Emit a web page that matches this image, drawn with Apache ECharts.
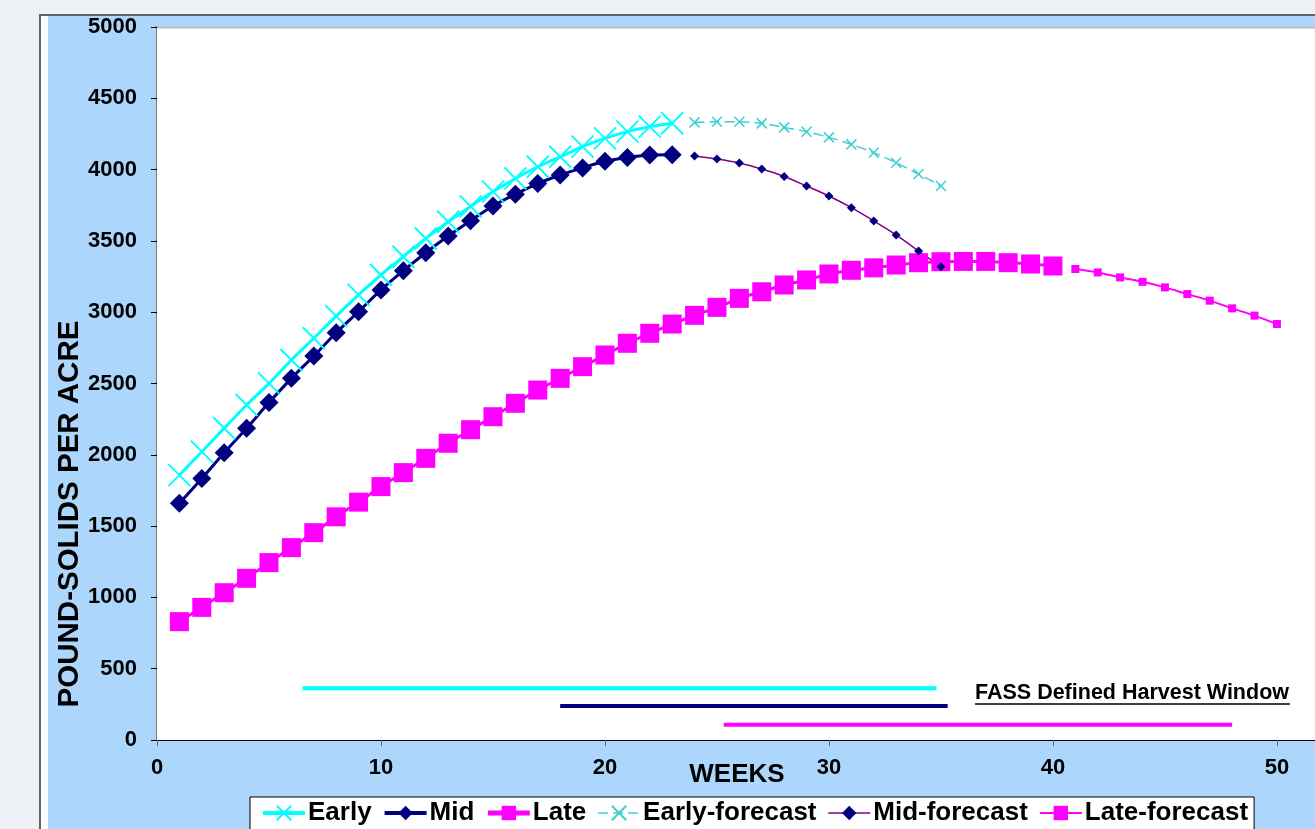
<!DOCTYPE html>
<html>
<head>
<meta charset="utf-8">
<script src="https://cdn.jsdelivr.net/npm/echarts@6/dist/echarts.min.js"></script>
<style>
  html, body { margin: 0; padding: 0; background: #eef1f6; }
  #chart { width: 1315px; height: 829px; }
</style>
</head>
<body>
<div id="chart"></div>
<script>
// ---- data ----
const earlyStart = 1;
const earlyValues = [1858, 2022, 2186, 2349, 2501, 2665, 2817, 2973, 3121, 3261, 3389, 3517, 3634, 3742, 3845, 3938, 4020, 4090, 4161, 4219, 4266, 4301, 4325];
const midStart = 1;
const midValues = [1660, 1834, 2015, 2186, 2366, 2536, 2693, 2856, 3004, 3156, 3291, 3417, 3534, 3642, 3745, 3828, 3902, 3962, 4012, 4058, 4085, 4102, 4105];
const lateStart = 1;
const lateValues = [830, 930, 1033, 1134, 1244, 1349, 1454, 1565, 1668, 1777, 1875, 1975, 2081, 2176, 2267, 2361, 2454, 2536, 2618, 2700, 2782, 2852, 2917, 2978, 3034, 3097, 3143, 3191, 3226, 3268, 3294, 3311, 3331, 3347, 3354, 3356, 3356, 3347, 3338, 3324];
const earlyFcStart = 24;
const earlyFcValues = [4331, 4336, 4336, 4324, 4296, 4266, 4226, 4177, 4118, 4048, 3969, 3885];
const midFcStart = 24;
const midFcValues = [4095, 4074, 4046, 4004, 3952, 3885, 3815, 3733, 3640, 3542, 3429, 3319];
const lateFcStart = 41;
const lateFcValues = [3303, 3279, 3244, 3213, 3174, 3127, 3081, 3027, 2976, 2917];

// FASS harvest windows: [startWeek, endWeek], level
const earlyWindow = [6.5, 34.8]; const earlyWindowLevel = 363;
const midWindow = [18.0, 35.3];  const midWindowLevel = 238;
const lateWindow = [25.3, 48.0]; const lateWindowLevel = 107;

const seriesNames = ['Early', 'Mid', 'Late', 'Early-forecast', 'Mid-forecast', 'Late-forecast'];
const xTitle = 'WEEKS';
const yTitle = 'POUND-SOLIDS PER ACRE';
const windowLabel = 'FASS Defined Harvest Window';

function pairs(start, vals) { return vals.map((v, i) => [start + i, v]); }
function windowPairs(w, level) { return [[w[0], level], [w[1], level]]; }

const FONT = '"Liberation Sans", Arial, sans-serif';
const xPath = 'path://M0,0L22,22M22,0L0,22';
const xPathSmall = 'path://M0,0L10,10M10,0L0,10';
const legendLineWidths = [4, 4, 5, 1.5, 1.5, 2];

const chart = echarts.init(document.getElementById('chart'), null, { renderer: 'canvas' });

const option = {
  backgroundColor: '#eef1f6',
  animation: false,
  grid: { left: 157, top: 27, right: 0, bottom: 89, show: true, backgroundColor: '#ffffff', borderWidth: 0, z: 1 },
  xAxis: {
    type: 'value', min: 0, max: 51.7, interval: 10,
    axisLine: { show: true, onZero: false, lineStyle: { color: '#000', width: 1 } },
    axisTick: { show: true, length: 6, lineStyle: { color: '#666' } },
    axisLabel: { fontSize: 22, fontWeight: 'bold', color: '#000', fontFamily: FONT, margin: 17, showMaxLabel: false,
      formatter: v => (v % 10 === 0 ? String(v) : '') },
    splitLine: { show: false }
  },
  yAxis: {
    type: 'value', min: 0, max: 5000, interval: 500,
    axisLine: { show: true, lineStyle: { color: '#7a7a7a', width: 2 } },
    axisTick: { show: true, length: 6, lineStyle: { color: '#000' } },
    axisLabel: { fontSize: 22, fontWeight: 'bold', color: '#000', fontFamily: FONT, margin: 20, formatter: v => String(v) },
    splitLine: { show: true, lineStyle: { color: '#3a3a3a', width: 1 } }
  },
  legend: {
    data: seriesNames.map((n, i) => ({ name: n, lineStyle: { width: legendLineWidths[i] } })),
    left: 250, top: 797,
    orient: 'horizontal',
    itemWidth: 42, itemHeight: 18, itemGap: 11,
    padding: [3, 6, 6, 11],
    backgroundColor: '#ffffff', borderColor: '#000', borderWidth: 1,
    textStyle: { fontSize: 26, fontWeight: 'bold', color: '#000', fontFamily: FONT, padding: [0, 0, 0, -2] }
  },
  graphic: [
    { type: 'rect', z: -20, silent: true, shape: { x: 40, y: 15, width: 1300, height: 830 }, style: { fill: '#ffffff', stroke: '#5c6470', lineWidth: 2 } },
    { type: 'rect', z: -19, silent: true, shape: { x: 48, y: 16, width: 1300, height: 830 }, style: { fill: '#add6fc' } },
    { type: 'line', z: 5, silent: true, shape: { x1: 157, y1: 27.5, x2: 1315, y2: 27.5 }, style: { stroke: '#bdbdbd', lineWidth: 2 } },
    { type: 'text', z: 5, silent: true, x: 737, y: 775, style: { text: xTitle, fill: '#000', font: 'bold 26px ' + FONT, align: 'center', verticalAlign: 'middle' } },
    { type: 'text', z: 5, silent: true, x: 70, y: 514, rotation: Math.PI / 2, style: { text: yTitle, fill: '#000', font: 'bold 29.5px ' + FONT, align: 'center', verticalAlign: 'middle' } },
    { type: 'text', z: 5, silent: true, x: 975, y: 693, style: { text: windowLabel, fill: '#000', font: 'bold 21.5px ' + FONT, align: 'left', verticalAlign: 'middle' } },
    { type: 'line', z: 5, silent: true, shape: { x1: 975, y1: 704, x2: 1290, y2: 704 }, style: { stroke: '#000', lineWidth: 1.5 } }
  ],
  series: [
    {
      name: 'Early', type: 'line', z: 4, data: pairs(earlyStart, earlyValues), smooth: 0.3,
      symbol: xPath, symbolSize: 22,
      lineStyle: { color: '#00ffff', width: 3 },
      itemStyle: { color: '#00ffff', borderColor: '#00ffff', borderWidth: 1.9 }
    },
    {
      name: 'Mid', type: 'line', z: 3, data: pairs(midStart, midValues), smooth: 0.3,
      symbol: 'diamond', symbolSize: 19,
      lineStyle: { color: '#000080', width: 3 },
      itemStyle: { color: '#000080' }
    },
    {
      name: 'Late', type: 'line', z: 3, data: pairs(lateStart, lateValues), smooth: 0.3,
      symbol: 'rect', symbolSize: 19,
      lineStyle: { color: '#ff00ff', width: 3 },
      itemStyle: { color: '#ff00ff' }
    },
    {
      name: 'Early-forecast', type: 'line', z: 3, data: pairs(earlyFcStart, earlyFcValues), smooth: 0.3,
      symbol: xPathSmall, symbolSize: 10,
      lineStyle: { color: '#3fcfcf', width: 1.5, type: [10, 5] },
      itemStyle: { color: '#3fcfcf', borderColor: '#3fcfcf', borderWidth: 1.5 }
    },
    {
      name: 'Mid-forecast', type: 'line', z: 3, data: pairs(midFcStart, midFcValues), smooth: 0.3,
      symbol: 'diamond', symbolSize: 9,
      lineStyle: { color: '#800080', width: 1.5 },
      itemStyle: { color: '#000080' }
    },
    {
      name: 'Late-forecast', type: 'line', z: 3, data: pairs(lateFcStart, lateFcValues), smooth: 0.3,
      symbol: 'rect', symbolSize: 8,
      lineStyle: { color: '#ff00ff', width: 2 },
      itemStyle: { color: '#ff00ff' }
    },
    {
      name: 'EarlyWindow', type: 'line', z: 3, silent: true, data: windowPairs(earlyWindow, earlyWindowLevel),
      showSymbol: false, symbol: 'none', lineStyle: { color: '#00ffff', width: 4 }
    },
    {
      name: 'MidWindow', type: 'line', z: 3, silent: true, data: windowPairs(midWindow, midWindowLevel),
      showSymbol: false, symbol: 'none', lineStyle: { color: '#000080', width: 4 }
    },
    {
      name: 'LateWindow', type: 'line', z: 3, silent: true, data: windowPairs(lateWindow, lateWindowLevel),
      showSymbol: false, symbol: 'none', lineStyle: { color: '#ff00ff', width: 4 }
    }
  ]
};
chart.setOption(option);
</script>
</body>
</html>
